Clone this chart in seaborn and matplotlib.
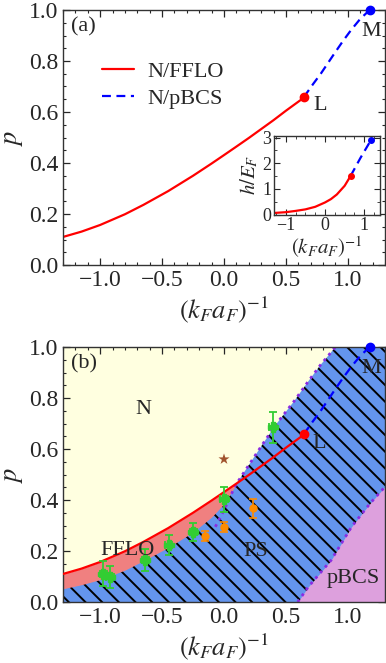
import numpy as np
import pandas as pd
import matplotlib
matplotlib.use("Agg")
import matplotlib.pyplot as plt
import seaborn as sns

# ---- data ----
# N/FFLO boundary (red)
red_x = [-1.3, -1.15, -1.0, -0.8, -0.65, -0.45, -0.25, -0.1, 0.0, 0.09, 0.2, 0.3, 0.4, 0.5, 0.65]
red_p = [0.110, 0.131, 0.157, 0.199, 0.236, 0.29, 0.35, 0.398, 0.431, 0.461, 0.498, 0.533, 0.568, 0.605, 0.658]
# N/pBCS boundary (blue dashed)
blue_x = [0.644, 0.72, 0.784, 0.892, 0.96, 1.027, 1.10, 1.176]
blue_p = [0.658, 0.71, 0.752, 0.83, 0.878, 0.922, 0.965, 1.0]
# inset h/E_F
ins_red_x = [-1.3, -1.0, -0.75, -0.5, -0.25, 0.0, 0.15, 0.3, 0.5, 0.65]
ins_red_h = [0.06, 0.09, 0.14, 0.2, 0.3, 0.47, 0.6, 0.78, 1.12, 1.5]
ins_blue_x = [0.65, 0.9, 1.17]
ins_blue_h = [1.5, 2.2, 2.9]

# FFLO lower edge, same x as the first 10 red points
fflo_low = [0.052, 0.068, 0.088, 0.125, 0.162, 0.214, 0.274, 0.333, 0.385, 0.455]
# phase separation upper edge
ps_x = [-1.3, -1.15, -1.0, -0.8, -0.65, -0.45, -0.25, -0.1, 0.0, 0.09, 0.15, 0.30, 0.41, 0.57, 0.68, 0.78, 0.9, 1.3]
ps_p = [0.052, 0.068, 0.088, 0.125, 0.162, 0.214, 0.274, 0.333, 0.385, 0.455, 0.50, 0.61, 0.69, 0.79, 0.865, 0.93, 1.0, 1.0]
# dotted N/PS line
dot_x = [-0.07, 0.0, 0.09, 0.15, 0.30, 0.41, 0.57, 0.68, 0.78, 0.9]
dot_p = [0.295, 0.36, 0.455, 0.50, 0.61, 0.69, 0.79, 0.865, 0.93, 1.0]
# PS/pBCS boundary
pbcs_x = [0.595, 0.68, 0.865, 1.03, 1.18, 1.3]
pbcs_p = [0.0, 0.059, 0.164, 0.295, 0.387, 0.452]

# experimental points
green_x = [-0.973, -0.919, -0.635, -0.446, -0.248, 0.0, 0.392]
green_p = [0.111, 0.098, 0.164, 0.223, 0.275, 0.402, 0.685]
green_xerr = [0.03, 0.03, 0.03, 0.03, 0.03, 0.03, 0.03]
green_perr = [0.049, 0.045, 0.043, 0.04, 0.035, 0.05, 0.062]
orange_x = [-0.157, 0.0, 0.235]
orange_p = [0.26, 0.295, 0.367]
orange_perr = [0.02, 0.02, 0.036]
star_x = [0.0]
star_p = [0.56]

L_pt = (0.644, 0.658)
M_pt = (1.176, 1.0)

sns.set_style("ticks")
plt.rcParams["font.family"] = ["Liberation Serif", "DejaVu Serif"]
plt.rcParams["mathtext.fontset"] = "stix"
plt.rcParams["hatch.linewidth"] = 1.4

TICK = 17
LAB = 19
TXT = 16

minus_fmt1 = matplotlib.ticker.FuncFormatter(lambda v, pos: f"{v:.1f}".replace("-", "\u2212"))
minus_fmt0 = matplotlib.ticker.FuncFormatter(lambda v, pos: f"{v:.0f}".replace("-", "\u2212"))

fig = plt.figure(figsize=(3.86, 6.63), dpi=100)
ax1 = fig.add_axes([63/386, 1-265/663, 322/386, 255/663])
ax2 = fig.add_axes([63/386, 1-602/663, 322/386, 255/663])


def style_axes(a):
    a.set_xlim(-1.3, 1.3)
    a.set_ylim(0, 1.0)
    a.set_xticks([-1.0, -0.5, 0.0, 0.5, 1.0])
    a.set_yticks([0.0, 0.2, 0.4, 0.6, 0.8, 1.0])
    a.set_xticks(np.arange(-1.3, 1.31, 0.1), minor=True)
    a.set_yticks(np.arange(0, 1.01, 0.05), minor=True)
    a.xaxis.set_major_formatter(minus_fmt1)
    a.yaxis.set_major_formatter(minus_fmt1)
    a.tick_params(which="both", direction="in", top=True, right=True, labelsize=TICK)
    a.tick_params(which="major", length=5, width=0.9)
    a.tick_params(which="minor", length=2.5, width=0.8)
    a.set_xlabel(r"$(k_Fa_F)^{-1}$", fontsize=LAB, labelpad=3)
    a.set_ylabel(r"$p$", fontsize=LAB, labelpad=3)
    for s in a.spines.values():
        s.set_linewidth(1.0)
        s.set_color("#333333")


# ---- panel (a) ----
sns.lineplot(x=red_x, y=red_p, ax=ax1, color="red", lw=1.6, label="N/FFLO", sort=False)
sns.lineplot(x=blue_x, y=blue_p, ax=ax1, color="blue", lw=1.6, ls=(0, (4, 2.5)), label="N/pBCS", sort=False)
ax1.plot(*L_pt, "o", color="red", ms=6)
ax1.plot(*M_pt, "o", color="blue", ms=6, clip_on=False, zorder=5)
ax1.text(0.72, 0.627, "L", fontsize=TXT, va="center", ha="left")
ax1.text(1.19, 0.915, "M", fontsize=TXT, va="center", ha="center")
ax1.text(0.025, 0.97, "(a)", transform=ax1.transAxes, fontsize=TXT, va="top", ha="left")
ax1.legend(loc="upper left", bbox_to_anchor=(0.095, 0.835), frameon=False, fontsize=TXT,
           handlelength=1.4, handletextpad=0.6, labelspacing=0.3, borderaxespad=0)
style_axes(ax1)

# inset
axi = fig.add_axes([274/386, 1-214.5/663, 106/386, 79/663])
sns.lineplot(x=ins_red_x, y=ins_red_h, ax=axi, color="red", lw=1.6, sort=False)
sns.lineplot(x=ins_blue_x, y=ins_blue_h, ax=axi, color="blue", lw=1.6, ls=(0, (4, 2.5)), sort=False)
axi.plot(ins_red_x[-1], ins_red_h[-1], "o", color="red", ms=4)
axi.plot(ins_blue_x[-1], ins_blue_h[-1], "o", color="blue", ms=4)
axi.set_xlim(-1.3, 1.4)
axi.set_ylim(0, 3.08)
axi.set_xticks([-1, 0, 1])
axi.set_yticks([0, 1, 2, 3])
axi.xaxis.set_major_formatter(minus_fmt0)
axi.set_xticks(np.arange(-1.25, 1.4, 0.25), minor=True)
axi.set_yticks(np.arange(0, 3.01, 0.5), minor=True)
axi.tick_params(which="both", direction="in", top=True, right=True, labelsize=13, pad=2)
axi.tick_params(which="major", length=4)
axi.tick_params(which="minor", length=2)
axi.set_xlabel(r"$(k_Fa_F)^{-1}$", fontsize=15, labelpad=0)
axi.set_ylabel(r"$h/E_F$", fontsize=15, labelpad=1)
for s in axi.spines.values():
    s.set_linewidth(1.0)
    s.set_color("#333333")

# ---- panel (b) ----
ax2.set_facecolor("#FFFFE0")
ax2.fill_between(ps_x, 0, ps_p, facecolor="#6495ED", edgecolor="black", hatch="\\\\", lw=0, zorder=1)
ax2.fill_between(red_x[:10], fflo_low, red_p[:10], facecolor="#F08080", lw=0, zorder=1.5)
ax2.fill_between(pbcs_x, 0, pbcs_p, facecolor="#DDA0DD", lw=0, zorder=1.6)
sns.lineplot(x=dot_x, y=dot_p, ax=ax2, color="#8A2BE2", lw=2, ls=":", sort=False, zorder=2)
sns.lineplot(x=pbcs_x, y=pbcs_p, ax=ax2, color="#8A2BE2", lw=2, ls=":", sort=False, zorder=2)
sns.lineplot(x=red_x, y=red_p, ax=ax2, color="red", lw=1.6, sort=False, zorder=3)
sns.lineplot(x=blue_x, y=blue_p, ax=ax2, color="blue", lw=1.6, ls=(0, (4, 2.5)), sort=False, zorder=3)
ax2.plot(*L_pt, "o", color="red", ms=6, zorder=4)
ax2.plot(*M_pt, "o", color="blue", ms=6, clip_on=False, zorder=5)

ax2.errorbar(orange_x, orange_p, yerr=orange_perr, fmt="o", color="darkorange", ms=5,
             capsize=3, elinewidth=1.2, capthick=1.2, zorder=4)
ax2.errorbar(green_x, green_p, xerr=green_xerr, yerr=green_perr, fmt="P", color="limegreen",
             ms=7, capsize=3, elinewidth=1.3, capthick=1.3, zorder=4)
sns.scatterplot(x=star_x, y=star_p, ax=ax2, marker="*", color="sienna", s=70, edgecolor="none", zorder=4)

ax2.text(0.77, 0.623, "L", fontsize=TXT, va="center", ha="center", zorder=6)
ax2.text(1.19, 0.917, "M", fontsize=TXT, va="center", ha="center", zorder=6)
ax2.text(-0.65, 0.754, "N", fontsize=TXT, va="center", ha="center", zorder=6)
ax2.text(-0.78, 0.203, "FFLO", fontsize=TXT, va="center", ha="center", zorder=6)
ax2.text(0.257, 0.197, "PS", fontsize=TXT, va="center", ha="center", zorder=6)
ax2.text(1.04, 0.092, "pBCS", fontsize=TXT, va="center", ha="center", zorder=6)
ax2.text(0.025, 0.97, "(b)", transform=ax2.transAxes, fontsize=TXT, va="top", ha="left", zorder=6)
style_axes(ax2)

fig.savefig("out.png", dpi=100)
